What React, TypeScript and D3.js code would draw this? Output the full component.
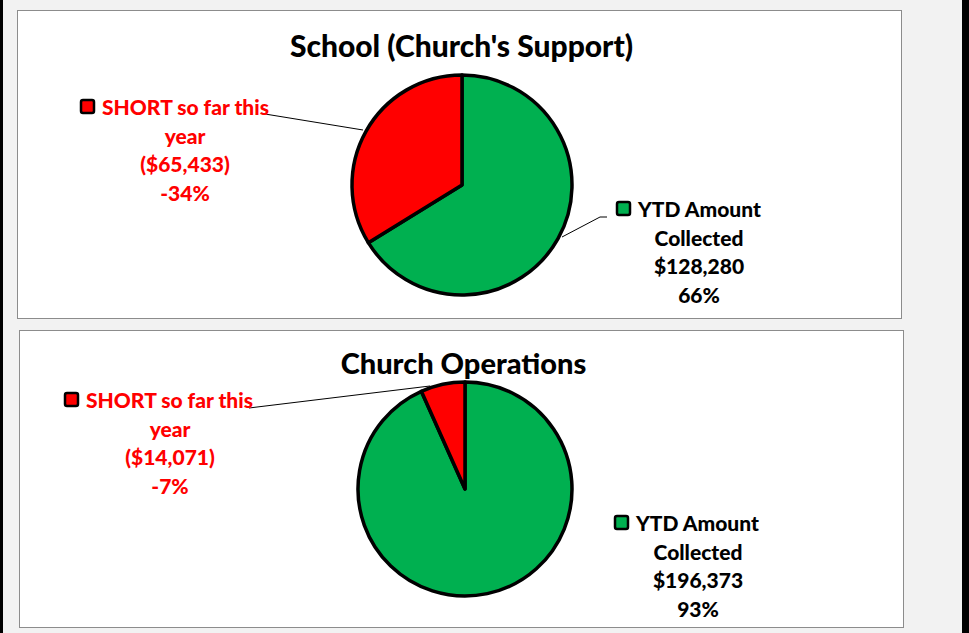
import React from "react";
import * as d3 from "d3";

const categories = ["YTD Amount Collected", "SHORT so far this year"];
const titles = ["School (Church's Support)", "Church Operations"];
const schoolValues = [128280, 65433];
const churchValues = [196373, 14071];
const schoolLabels = [["YTD Amount", "Collected", "$128,280", "66%"], ["SHORT so far this", "year", "($65,433)", "-34%"]];
const churchLabels = [["YTD Amount", "Collected", "$196,373", "93%"], ["SHORT so far this", "year", "($14,071)", "-7%"]];
const colors = ["#00B050", "#FF0000"];
const textColors = ["#000000", "#FF0000"];

const FONT = "Lato, 'Open Sans', sans-serif";

type PanelCfg = {
  box: [number, number, number, number];
  title: string;
  titleY: number;
  titleSize: number;
  center: [number, number];
  r: number;
  values: number[];
  labels: string[][];
  labelPos: { cx: number; y: number; mx: number }[];
  leaders: ([number, number][] | null)[];
};

const panels: PanelCfg[] = [
  {
    box: [17.5, 10.5, 884, 308],
    title: titles[0],
    titleY: 57,
    titleSize: 30,
    center: [462, 185],
    r: 110,
    values: schoolValues,
    labels: schoolLabels,
    labelPos: [
      { cx: 699, y: 217, mx: 616 },
      { cx: 185, y: 115, mx: 80 },
    ],
    leaders: [
      [[607, 217], [600, 217], [562, 237]],
      [[265, 114], [363, 130]],
    ],
  },
  {
    box: [19.5, 330.5, 884, 297],
    title: titles[1],
    titleY: 374,
    titleSize: 29,
    center: [465, 489],
    r: 107,
    values: churchValues,
    labels: churchLabels,
    labelPos: [
      { cx: 698, y: 531, mx: 614 },
      { cx: 170, y: 408, mx: 64 },
    ],
    leaders: [null, [[249, 408], [430, 386]]],
  },
];

function Panel({ cfg }: { cfg: PanelCfg }) {
  const pie = d3.pie<number>().sort(null).value((d) => d)(cfg.values);
  const arc = d3.arc<d3.PieArcDatum<number>>().innerRadius(0).outerRadius(cfg.r);
  const [bx, by, bw, bh] = cfg.box;
  const lh = 28.5;
  return (
    <g>
      <rect x={bx} y={by} width={bw} height={bh} fill="#ffffff" stroke="#8c8c8c" strokeWidth={1} />
      <text x={(bx + bw / 2) + 2} y={cfg.titleY} textAnchor="middle" fontFamily={FONT} fontWeight={900} fontSize={cfg.titleSize} fill="#000">
        {cfg.title}
      </text>
      <g transform={`translate(${cfg.center[0]},${cfg.center[1]})`}>
        {pie.map((d, i) => (
          <path key={i} d={arc(d) || ""} fill={colors[i]} stroke="#000" strokeWidth={3.5} strokeLinejoin="round" />
        ))}
      </g>
      {cfg.leaders.map((pts, i) =>
        pts ? (
          <path key={"l" + i} d={d3.line()(pts) || ""} fill="none" stroke="#000" strokeWidth={1} />
        ) : null
      )}
      {cfg.labels.map((lines, i) => {
        const p = cfg.labelPos[i];
        return (
          <g key={"t" + i}>
            <rect x={p.mx + 1} y={p.y - 15} width={13} height={13} rx={2} fill={colors[i]} stroke="#000" strokeWidth={2.5} />
            {lines.map((ln, j) => (
              <text
                key={j}
                x={j === 0 ? p.mx + 22 : p.cx}
                y={p.y + j * lh}
                textAnchor={j === 0 ? "start" : "middle"}
                fontFamily={FONT}
                fontWeight={900}
                fontSize={21}
                fill={textColors[i]}
              >
                {ln}
              </text>
            ))}
          </g>
        );
      })}
    </g>
  );
}

export default function App() {
  return (
    <svg width={969} height={633} style={{ position: "absolute", left: 0, top: 0 }}>
      <rect x={0} y={0} width={969} height={633} fill="#f2f2f2" />
      <rect x={0} y={0} width={3} height={633} fill="#000" />
      <rect x={962} y={0} width={7} height={633} fill="#000" />
      {panels.map((p, i) => (
        <Panel key={i} cfg={p} />
      ))}
    </svg>
  );
}
